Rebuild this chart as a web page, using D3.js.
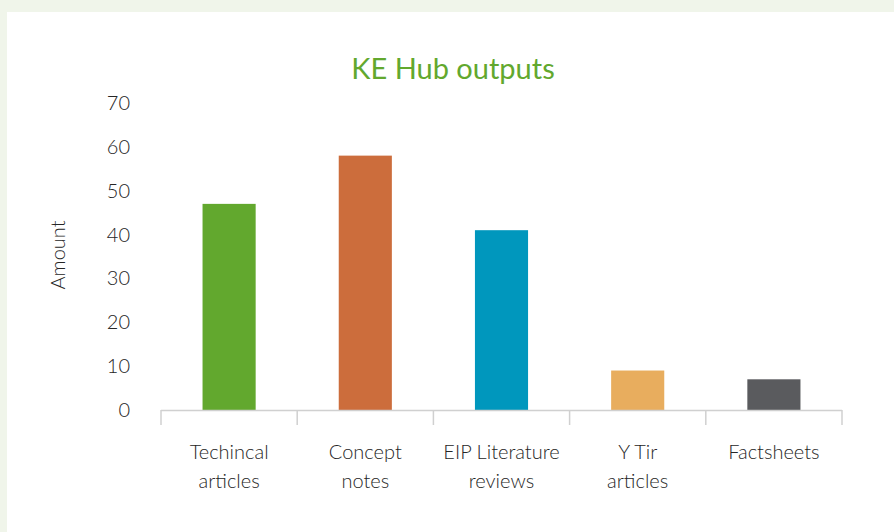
<!DOCTYPE html>
<html>
<head>
<meta charset="utf-8">
<script src="https://cdn.jsdelivr.net/npm/d3@7"></script>
<style>
  body { margin: 0; background: #f0f5ea; }
  svg { display: block; }
  text { font-family: Lato, "Open Sans", sans-serif; fill: #262626; font-weight: 300; }
</style>
</head>
<body>
<svg id="chart" width="894" height="532"></svg>
<script>
// KE Hub outputs - column chart

const categories = [['Techincal', 'articles'], ['Concept', 'notes'], ['EIP Literature', 'reviews'], ['Y Tir', 'articles'], ['Factsheets']];
const amounts = [47, 58, 41, 9, 7];
const barColors = ['#62a82e', '#cc6d3c', '#0097bd', '#e8ad5e', '#5a5b5e'];
const yTicks = [0, 10, 20, 30, 40, 50, 60, 70];

const svg = d3.select('#chart');

// white panel
svg.append('rect')
    .attr('x', 7).attr('y', 12)
    .attr('width', 887).attr('height', 520)
    .attr('fill', '#fff');

const margin = { left: 161, right: 842, top: 103, bottom: 410 };

const x = d3.scaleBand()
    .domain(d3.range(amounts.length))
    .range([margin.left, margin.right])
    .paddingInner(0.61)
    .paddingOuter(0.305);

const y = d3.scaleLinear()
    .domain([0, 70])
    .range([margin.bottom, margin.top]);

svg.append('text')
    .attr('x', 453).attr('y', 79)
    .attr('text-anchor', 'middle')
    .style('font-size', '29px')
    .style('font-weight', 400)
    .style('fill', '#62a82e')
    .text('KE Hub outputs');

// y labels (no axis line in the original)
svg.selectAll('.ylab')
    .data(yTicks)
    .enter().append('text')
    .attr('class', 'ylab')
    .attr('x', 130)
    .attr('y', d => y(d) + 7)
    .attr('text-anchor', 'end')
    .style('font-size', '20px')
    .text(d => d);

svg.append('text')
    .attr('transform', 'translate(65,255) rotate(-90)')
    .attr('text-anchor', 'middle')
    .style('font-size', '20px')
    .text('Amount');

svg.selectAll('.bar')
    .data(amounts)
    .enter().append('rect')
    .attr('class', 'bar')
    .attr('x', (d, i) => x(i))
    .attr('y', d => y(d))
    .attr('width', x.bandwidth())
    .attr('height', d => y(0) - y(d))
    .attr('fill', (d, i) => barColors[i]);

// baseline + category separators
const axisColor = '#d0d0d0';
svg.append('line')
    .attr('x1', margin.left).attr('x2', margin.right)
    .attr('y1', y(0) + 0.5).attr('y2', y(0) + 0.5)
    .attr('stroke', axisColor).attr('stroke-width', 1.5);

const step = x.step();
svg.selectAll('.sep')
    .data(d3.range(amounts.length + 1))
    .enter().append('line')
    .attr('class', 'sep')
    .attr('x1', i => margin.left + i * step)
    .attr('x2', i => margin.left + i * step)
    .attr('y1', y(0)).attr('y2', y(0) + 15)
    .attr('stroke', axisColor).attr('stroke-width', 1.5);

const labels = svg.selectAll('.cat')
    .data(categories)
    .enter().append('text')
    .attr('class', 'cat')
    .attr('text-anchor', 'middle')
    .style('font-size', '20px');

labels.selectAll('tspan')
    .data((d, i) => d.map(line => ({ line, i })))
    .enter().append('tspan')
    .attr('x', d => x(d.i) + x.bandwidth() / 2)
    .attr('y', (d, j) => 459 + j * 29)
    .text(d => d.line);
</script>
</body>
</html>
